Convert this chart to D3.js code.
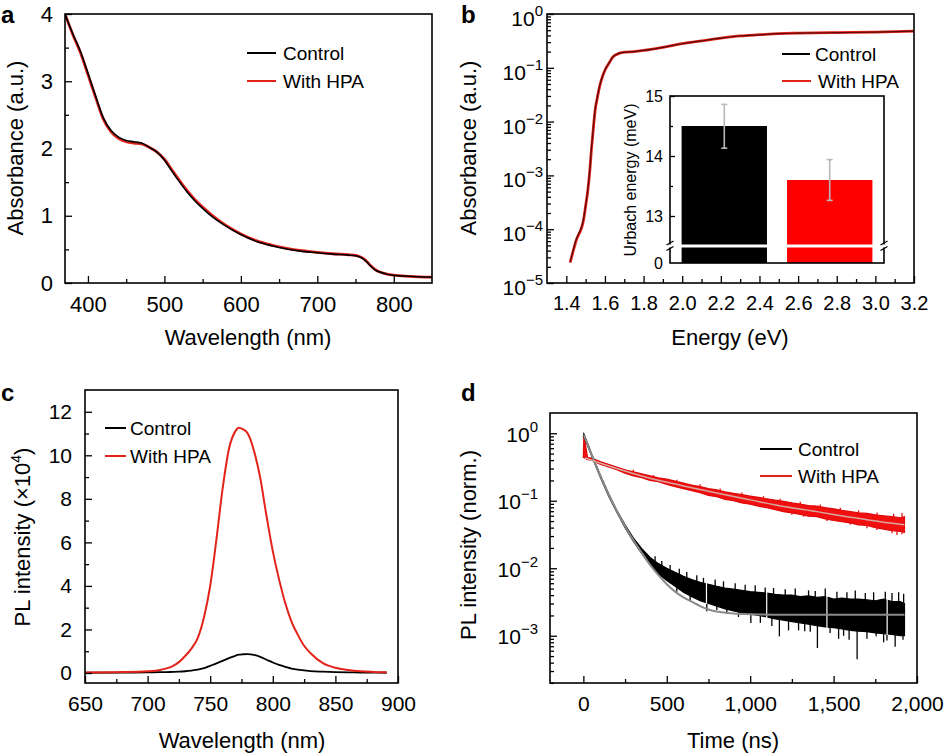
<!DOCTYPE html>
<html lang="en">
<head>
<meta charset="utf-8">
<title>Absorbance, Urbach energy and PL</title>
<script src="https://cdn.jsdelivr.net/npm/d3@7"></script>
<style>
  body { margin: 0; background: #fff; }
  svg { display: block; }
</style>
</head>
<body>
<script>
// ---------- data ----------
// a: absorbance vs wavelength
var absWl = [370,380,390,400,410,420,430,440,450,460,470,480,490,500,510,520,530,540,550,560,580,600,620,640,660,680,700,720,740,750,755,760,765,770,775,780,790,800,820,850];
var absControl = [4.0,3.71,3.45,3.12,2.78,2.46,2.27,2.17,2.12,2.1,2.08,2.02,1.95,1.83,1.66,1.5,1.35,1.22,1.11,1.01,0.85,0.72,0.62,0.555,0.505,0.47,0.45,0.43,0.415,0.405,0.39,0.36,0.31,0.25,0.2,0.17,0.135,0.115,0.1,0.085];
var absHPA = [4.0,3.70,3.43,3.10,2.76,2.44,2.25,2.15,2.10,2.08,2.07,2.02,1.95,1.84,1.68,1.52,1.37,1.24,1.13,1.03,0.86,0.73,0.63,0.565,0.515,0.48,0.455,0.435,0.42,0.41,0.395,0.365,0.315,0.255,0.205,0.172,0.137,0.117,0.1,0.086];

// b: absorbance vs energy (log)
var bEnergy = [1.42,1.45,1.49,1.50,1.51,1.52,1.53,1.54,1.55,1.56,1.57,1.58,1.60,1.62,1.64,1.66,1.68,1.70,1.75,1.80,1.90,2.00,2.10,2.20,2.30,2.40,2.50,2.60,2.80,3.00,3.20];
var bControl = [2.5e-5,6.3e-5,1.6e-4,2.8e-4,5.0e-4,1.1e-3,3.2e-3,7.9e-3,0.018,0.028,0.042,0.058,0.091,0.12,0.158,0.178,0.19,0.195,0.2,0.21,0.24,0.28,0.316,0.355,0.39,0.41,0.43,0.44,0.45,0.46,0.48];
var bHPA = [2.4e-5,6.0e-5,1.55e-4,2.7e-4,4.8e-4,1.05e-3,3.0e-3,7.6e-3,0.017,0.027,0.041,0.057,0.09,0.12,0.157,0.177,0.19,0.195,0.2,0.21,0.24,0.28,0.317,0.356,0.392,0.412,0.432,0.442,0.452,0.462,0.482];

// b inset: Urbach energy
var urbachCats = ["Control", "With HPA"];
var urbachVal = [14.5, 13.6];
var urbachErrLo = [14.13, 13.26];
var urbachErrHi = [14.86, 13.94];

// c: PL spectra (x10^4)
var plWl = [650,680,700,710,715,720,725,730,735,740,745,750,755,760,765,770,773,776,780,785,790,795,800,805,810,815,820,825,830,840,850,860,870,880,891];
var plHPA = [0.02,0.04,0.08,0.14,0.21,0.32,0.5,0.78,1.12,1.6,2.55,4.0,6.15,8.5,10.3,11.1,11.27,11.2,11.0,10.2,8.95,7.2,5.6,4.3,3.2,2.35,1.75,1.25,0.92,0.45,0.24,0.14,0.08,0.05,0.03];
var plControl = [0.01,0.02,0.03,0.04,0.04,0.05,0.06,0.08,0.11,0.15,0.22,0.33,0.44,0.56,0.68,0.79,0.84,0.86,0.87,0.83,0.74,0.61,0.48,0.37,0.28,0.2,0.15,0.12,0.09,0.06,0.04,0.03,0.02,0.015,0.01];

// d: TRPL, noisy traces kept as upper/lower envelopes plus the spikes that stick out
var dTime = [0,3,25,50,100,150,200,250,300,350,400,450,500,550,600,650,700,750,800,850,900,950,1000,1050,1100,1150,1200,1250,1300,1350,1400,1450,1500,1550,1600,1650,1700,1750,1800,1850,1900,1925];
var controlHi = [0.91,0.98,0.71,0.49,0.245,0.129,0.072,0.044,0.028,0.0195,0.0145,0.0117,0.0100,0.0087,0.0076,0.0068,0.0062,0.0058,0.0054,0.0051,0.0049,0.0047,0.0045,0.0044,0.0043,0.0041,0.0040,0.0040,0.0038,0.0039,0.0037,0.0038,0.0035,0.0036,0.0035,0.0035,0.0034,0.0033,0.0035,0.0032,0.0032,0.0030];
var controlLo = [0.87,0.91,0.66,0.46,0.229,0.120,0.068,0.040,0.025,0.0166,0.0112,0.0083,0.0066,0.0054,0.0044,0.0038,0.0033,0.0030,0.00275,0.0025,0.00234,0.00219,0.00209,0.0020,0.0019,0.00178,0.0017,0.00162,0.00155,0.00148,0.00141,0.00135,0.00132,0.00126,0.0012,0.00117,0.00115,0.0011,0.00107,0.00105,0.0010,0.0010];
var hpaHi = [0.457,0.955,0.437,0.427,0.380,0.347,0.316,0.288,0.269,0.251,0.234,0.219,0.209,0.195,0.182,0.170,0.162,0.151,0.145,0.135,0.129,0.123,0.117,0.112,0.107,0.102,0.098,0.093,0.089,0.085,0.083,0.079,0.076,0.072,0.069,0.066,0.065,0.062,0.060,0.058,0.056,0.058];
var hpaLo = [0.437,0.437,0.407,0.398,0.347,0.316,0.288,0.257,0.234,0.219,0.200,0.191,0.174,0.162,0.151,0.141,0.132,0.120,0.115,0.105,0.100,0.093,0.089,0.083,0.079,0.074,0.069,0.066,0.063,0.059,0.058,0.054,0.051,0.049,0.047,0.044,0.043,0.040,0.038,0.036,0.035,0.034];
var controlSpikeT = [560,640,740,800,860,930,1004,1061,1130,1175,1230,1290,1327,1360,1403,1479,1530,1560,1593,1641,1700,1755,1800,1820,1869,1916];
var controlSpikeV = [0.0045,0.0032,0.0023,0.0024,0.0021,0.0019,0.00155,0.00155,0.0014,0.00098,0.0012,0.0012,0.00117,0.00115,0.00066,0.0011,0.0009,0.001,0.00087,0.00045,0.0009,0.00098,0.0008,0.00085,0.00069,0.00087];
var controlUpT = [430,470,520,575,620,680,720,790,840,910,970,1030,1090,1140,1210,1270,1350,1390,1450,1520,1580,1630,1690,1740,1810,1850,1890,1920];
var controlUpV = [0.0150,0.0128,0.0112,0.0098,0.0088,0.0079,0.0072,0.0068,0.0064,0.0060,0.0057,0.0056,0.0052,0.0051,0.0049,0.0050,0.0047,0.0046,0.0050,0.0045,0.0044,0.0047,0.0043,0.0044,0.0045,0.0043,0.0044,0.0042];
var controlGapT = [738,1099,1460,1821];
var hpaSpikeT = [1060,1250,1320,1460,1600,1700,1760,1850,1880,1910];
var hpaSpikeV = [0.08,0.062,0.058,0.05,0.044,0.039,0.037,0.033,0.031,0.032];
var hpaUpT = [300,420,560,700,820,950,1080,1180,1300,1420,1540,1650,1760,1860,1910];
var hpaUpV = [0.29,0.24,0.205,0.175,0.152,0.133,0.117,0.107,0.097,0.088,0.079,0.072,0.067,0.064,0.066];
var fitTime = [3,50,100,150,200,250,300,350,400,450,500,550,600,650,700,750,800,900,1000,1200,1925];
var controlFit = [0.95,0.48,0.24,0.126,0.071,0.042,0.026,0.017,0.0112,0.0079,0.0058,0.0045,0.0037,0.0032,0.00275,0.00245,0.00229,0.00214,0.00209,0.00204,0.00204];
var hpaFitTime = [10,200,400,600,800,1000,1200,1400,1600,1800,1925];
var hpaFit = [0.43,0.30,0.215,0.166,0.13,0.103,0.082,0.069,0.057,0.048,0.044];

// tick values
var aXTicks = [400,500,600,700,800], aXMinor = [450,550,650,750];
var aYTicks = [0,1,2,3,4], aYMinor = [0.5,1.5,2.5,3.5];
var bXTicks = [1.4,1.6,1.8,2.0,2.2,2.4,2.6,2.8,3.0,3.2], bXMinor = [1.5,1.7,1.9,2.1,2.3,2.5,2.7,2.9,3.1];
var bYTicks = [1e-5,1e-4,1e-3,1e-2,1e-1,1];
var cXTicks = [650,700,750,800,850,900], cXMinor = [675,725,775,825,875];
var cYTicks = [0,2,4,6,8,10,12], cYMinor = [1,3,5,7,9,11];
var dXTicks = [0,500,1000,1500,2000], dXMinor = [250,750,1250,1750];
var dYTicks = [1e-3,1e-2,1e-1,1];
var insetTicks = [0,13,14,15], insetMinor = [13.5,14.5];

// ---------- drawing ----------
var FONT = '"Liberation Sans", Arial, Helvetica, sans-serif';
var RED = "#e2231a";
var w = 946, h = 755;

var svg = d3.select("body").append("svg")
  .attr("width", w).attr("height", h)
  .attr("font-family", FONT);
var defs = svg.append("defs");

function clip(id, x0, y0, x1, y1) {
  defs.append("clipPath").attr("id", id).append("rect")
    .attr("x", x0).attr("y", y0).attr("width", x1 - x0).attr("height", y1 - y0);
  return svg.append("g").attr("clip-path", "url(#" + id + ")");
}
function frame(x0, y0, x1, y1) {
  svg.append("rect").attr("x", x0).attr("y", y0)
    .attr("width", x1 - x0).attr("height", y1 - y0)
    .attr("fill", "none").attr("stroke", "#000").attr("stroke-width", 1.6);
}
function styleAxis(a, fs) {
  a.attr("font-family", FONT).attr("font-size", fs);
  a.select(".domain").remove();
  a.selectAll(".tick line").attr("stroke", "#000").attr("stroke-width", 1.3);
  a.selectAll(".tick text").attr("fill", "#000");
  return a;
}
function bottomAxis(scale, y, ticks, minor, fmt, fs, pad) {
  var a = svg.append("g").attr("transform", "translate(0," + y + ")")
    .call(d3.axisBottom(scale).tickValues(ticks).tickFormat(fmt).tickSize(-7).tickPadding(pad));
  styleAxis(a, fs);
  if (minor) {
    styleAxis(svg.append("g").attr("transform", "translate(0," + y + ")")
      .call(d3.axisBottom(scale).tickValues(minor).tickFormat("").tickSize(-4)), fs);
  }
  return a;
}
function leftAxis(scale, x, ticks, minor, fmt, fs, pad, size) {
  var a = svg.append("g").attr("transform", "translate(" + x + ",0)")
    .call(d3.axisLeft(scale).tickValues(ticks).tickFormat(fmt).tickSize(-(size || 7)).tickPadding(pad));
  styleAxis(a, fs);
  if (minor) {
    styleAxis(svg.append("g").attr("transform", "translate(" + x + ",0)")
      .call(d3.axisLeft(scale).tickValues(minor).tickFormat("").tickSize(-(size ? size * 0.6 : 4))), fs);
  }
  return a;
}
function logMinor(scale) {
  var dom = scale.domain(), out = [];
  for (var e = -6; e <= 1; e++) {
    for (var k = 2; k <= 9; k++) {
      var v = k * Math.pow(10, e);
      if (v > dom[0] && v < dom[1]) out.push(v);
    }
  }
  return out;
}
function powerLabels(a, dy, supSize) {
  a.selectAll(".tick text").each(function(d) {
    var e = Math.round(Math.log10(d));
    var t = d3.select(this).attr("dy", dy + "px").text(null);
    t.append("tspan").text("10");
    t.append("tspan").attr("dy", "-10px").attr("font-size", supSize)
      .text(e === 0 ? "0" : "\u2212" + (-e));
  });
}
function title(x, y, txt, fs) {
  return svg.append("text").attr("x", x).attr("y", y)
    .attr("text-anchor", "middle").attr("font-size", fs).attr("fill", "#000").text(txt);
}
function yTitle(x, y, txt, fs) {
  return svg.append("text").attr("transform", "translate(" + x + "," + y + ") rotate(-90)")
    .attr("text-anchor", "middle").attr("font-size", fs).attr("fill", "#000").text(txt);
}
function letter(x, y, txt) {
  svg.append("text").attr("x", x).attr("y", y).attr("font-size", 24)
    .attr("font-weight", "bold").attr("fill", "#000").text(txt);
}
function legend(x1, x2, tx, y, color, label) {
  svg.append("line").attr("x1", x1).attr("x2", x2).attr("y1", y).attr("y2", y)
    .attr("stroke", color).attr("stroke-width", 2);
  svg.append("text").attr("x", tx).attr("y", y).attr("dy", "0.36em")
    .attr("font-size", 19).attr("fill", "#000").text(label);
}
function zip(xs, ys) { return xs.map(function(v, i) { return [v, ys[i]]; }); }

// ===== panel a =====
var ax = d3.scaleLinear().domain([370, 850]).range([65, 432]);
var ay = d3.scaleLinear().domain([0, 4]).range([283, 14]);
var aLine = d3.line().x(function(d) { return ax(d[0]); }).y(function(d) { return ay(d[1]); })
  .curve(d3.curveMonotoneX);
var ga = clip("clipA", 65, 14, 432, 283);
ga.append("path").datum(zip(absWl, absHPA)).attr("d", aLine)
  .attr("fill", "none").attr("stroke", RED).attr("stroke-width", 2.8);
ga.append("path").datum(zip(absWl, absControl)).attr("d", aLine)
  .attr("fill", "none").attr("stroke", "#000").attr("stroke-width", 1.6);
bottomAxis(ax, 283, aXTicks, aXMinor, d3.format("d"), 22, 13);
leftAxis(ay, 65, aYTicks, aYMinor, d3.format("d"), 22, 12);
frame(65, 14, 432, 283);
legend(247, 276, 283, 53, "#000", "Control");
legend(247, 276, 283, 81, RED, "With HPA");
title(248, 345, "Wavelength (nm)", 22);
yTitle(23, 148, "Absorbance (a.u.)", 22);
letter(1, 23, "a");

// ===== panel b =====
var bx = d3.scaleLinear().domain([1.3, 3.2]).range([547, 914]);
var by = d3.scaleLog().domain([1e-5, 1]).range([283, 14]);
var bLine = d3.line().x(function(d) { return bx(d[0]); }).y(function(d) { return by(d[1]); })
  .curve(d3.curveMonotoneX);
var gb = clip("clipB", 547, 14, 914, 283);
gb.append("path").datum(zip(bEnergy, bHPA)).attr("d", bLine)
  .attr("fill", "none").attr("stroke", RED).attr("stroke-width", 2.8);
gb.append("path").datum(zip(bEnergy, bControl)).attr("d", bLine)
  .attr("fill", "none").attr("stroke", "#5a0a08").attr("stroke-width", 1.2);
bottomAxis(bx, 283, bXTicks, bXMinor, d3.format(".1f"), 20, 13);
var bya = leftAxis(by, 547, bYTicks, logMinor(by), null, 21, 4);
powerLabels(bya, 11.5, 15);
frame(547, 14, 914, 283);
legend(782, 810, 815, 54, "#000", "Control");
legend(782, 811, 818, 81, RED, "With HPA");
title(730, 345, "Energy (eV)", 22);
yTitle(476, 148, "Absorbance (a.u.)", 22);
letter(461, 23, "b");

// inset: Urbach energy with broken axis
var ix = d3.scaleBand().domain(urbachCats).range([670, 884]).paddingInner(0.19).paddingOuter(0.11);
var iy = d3.scaleLinear().domain([0, 12.5, 15]).range([263, 246, 96]);
svg.append("rect").attr("x", 670).attr("y", 96).attr("width", 214).attr("height", 167).attr("fill", "#fff");
svg.selectAll("rect.urbach").data(urbachCats).enter().append("rect")
  .attr("class", "urbach")
  .attr("x", function(d) { return ix(d); })
  .attr("width", ix.bandwidth())
  .attr("y", function(d, i) { return iy(urbachVal[i]); })
  .attr("height", function(d, i) { return iy(0) - iy(urbachVal[i]); })
  .attr("fill", function(d, i) { return i === 0 ? "#000" : "#ff0000"; });
var errG = svg.append("g").attr("stroke", "#b8b8b8").attr("stroke-width", 1.6);
urbachCats.forEach(function(c, i) {
  var cx = ix(c) + ix.bandwidth() / 2;
  errG.append("line").attr("x1", cx).attr("x2", cx).attr("y1", iy(urbachErrLo[i])).attr("y2", iy(urbachErrHi[i]));
  errG.append("line").attr("x1", cx - 3).attr("x2", cx + 3).attr("y1", iy(urbachErrLo[i])).attr("y2", iy(urbachErrLo[i]));
  errG.append("line").attr("x1", cx - 3).attr("x2", cx + 3).attr("y1", iy(urbachErrHi[i])).attr("y2", iy(urbachErrHi[i]));
});
var ia = leftAxis(iy, 670, insetTicks, insetMinor, d3.format("d"), 16, 7, 5);
ia.selectAll(".tick").filter(function(d) { return d === 0; }).select("line").remove();
frame(670, 96, 884, 263);
// axis break
svg.append("rect").attr("x", 664).attr("y", iy(12.5) - 1.5).attr("width", 226).attr("height", 3).attr("fill", "#fff");
[670, 884].forEach(function(bxp) {
  [iy(12.5) - 3, iy(12.5) + 2.5].forEach(function(yy) {
    svg.append("line").attr("x1", bxp - 3.5).attr("x2", bxp + 3.5)
      .attr("y1", yy + 2).attr("y2", yy - 2)
      .attr("stroke", "#000").attr("stroke-width", 1.2);
  });
});
yTitle(636, 180, "Urbach energy (meV)", 16);

// ===== panel c =====
var cx = d3.scaleLinear().domain([650, 900]).range([85, 398]);
var cy = d3.scaleLinear().domain([-0.46, 13]).range([683, 390]);
var cLine = d3.line().x(function(d) { return cx(d[0]); }).y(function(d) { return cy(d[1]); })
  .curve(d3.curveMonotoneX);
var gc = clip("clipC", 85, 390, 398, 683);
gc.append("path").datum(zip(plWl, plControl)).attr("d", cLine)
  .attr("fill", "none").attr("stroke", "#000").attr("stroke-width", 1.8);
gc.append("path").datum(zip(plWl, plHPA)).attr("d", cLine)
  .attr("fill", "none").attr("stroke", RED).attr("stroke-width", 2);
bottomAxis(cx, 683, cXTicks, cXMinor, d3.format("d"), 21, 13);
leftAxis(cy, 85, cYTicks, cYMinor, d3.format("d"), 21, 13);
frame(85, 390, 398, 683);
legend(105, 126, 130, 428, "#000", "Control");
legend(105, 126, 130, 456, RED, "With HPA");
title(242, 748, "Wavelength (nm)", 22);
var ct = yTitle(30, 537, "", 22);
ct.append("tspan").text("PL intensity (\u00d710");
ct.append("tspan").attr("dy", "-9px").attr("font-size", 14).text("4");
ct.append("tspan").attr("dy", "9px").text(")");
letter(1, 401, "c");

// ===== panel d =====
var dx = d3.scaleLinear().domain([-200, 2000]).range([550, 917]);
var dy = d3.scaleLog().domain([Math.pow(10, -3.7), Math.pow(10, 0.3)]).range([683, 413]);
var gd = clip("clipD", 550, 413, 917, 683);
var band = function(hi, lo) {
  return d3.area().x(function(d, i) { return dx(dTime[i]); })
    .y0(function(d, i) { return dy(lo[i]); })
    .y1(function(d, i) { return dy(hi[i]); });
};
var controlLoAt = d3.scaleLinear().domain(dTime).range(controlLo);
var controlHiAt = d3.scaleLinear().domain(dTime).range(controlHi);
var hpaLoAt = d3.scaleLinear().domain(dTime).range(hpaLo);
var hpaHiAt = d3.scaleLinear().domain(dTime).range(hpaHi);
function spikes(cls, ts, vs, fromAt, color) {
  gd.selectAll("line." + cls).data(ts).enter().append("line")
    .attr("class", cls)
    .attr("x1", function(d) { return dx(d); }).attr("x2", function(d) { return dx(d); })
    .attr("y1", function(d) { return dy(fromAt(d)); })
    .attr("y2", function(d, i) { return dy(vs[i]); })
    .attr("stroke", color).attr("stroke-width", 1.3);
}
gd.append("path").datum(dTime).attr("d", band(hpaHi, hpaLo))
  .attr("fill", "#f01010").attr("stroke", "#e00808").attr("stroke-width", 1.2);
spikes("hspike", hpaSpikeT, hpaSpikeV, hpaLoAt, "#f01010");
spikes("hup", hpaUpT, hpaUpV, hpaHiAt, "#f01010");
gd.append("path").datum(dTime).attr("d", band(controlHi, controlLo))
  .attr("fill", "#000").attr("stroke", "#000").attr("stroke-width", 1.2);
spikes("cspike", controlSpikeT, controlSpikeV, controlLoAt, "#000");
spikes("cup", controlUpT, controlUpV, controlHiAt, "#000");
gd.selectAll("line.cgap").data(controlGapT).enter().append("line")
  .attr("class", "cgap")
  .attr("x1", function(d) { return dx(d); }).attr("x2", function(d) { return dx(d); })
  .attr("y1", function(d) { return dy(controlHiAt(d)) - 1; })
  .attr("y2", function(d) { return dy(controlLoAt(d)) + 1; })
  .attr("stroke", "#fff").attr("stroke-width", 1.2);
var dLine = d3.line().x(function(d) { return dx(d[0]); }).y(function(d) { return dy(d[1]); })
  .curve(d3.curveMonotoneX);
gd.append("path").datum(zip(fitTime, controlFit)).attr("d", dLine)
  .attr("fill", "none").attr("stroke", "#8a8a8a").attr("stroke-width", 2);
gd.append("path").datum(zip(hpaFitTime, hpaFit)).attr("d", dLine)
  .attr("fill", "none").attr("stroke", "#d8a8a0").attr("stroke-width", 1.5);
bottomAxis(dx, 683, dXTicks, dXMinor, d3.format(","), 21, 13);
var dya = leftAxis(dy, 550, dYTicks, logMinor(dy), null, 21, 12);
powerLabels(dya, 8, 15);
frame(550, 413, 917, 683);
legend(760, 792, 798, 449, "#000", "Control");
legend(760, 792, 798, 476, RED, "With HPA");
title(733, 748, "Time (ns)", 22);
yTitle(476, 545, "PL intensity (norm.)", 22);
letter(461, 401, "d");
</script>
</body>
</html>
